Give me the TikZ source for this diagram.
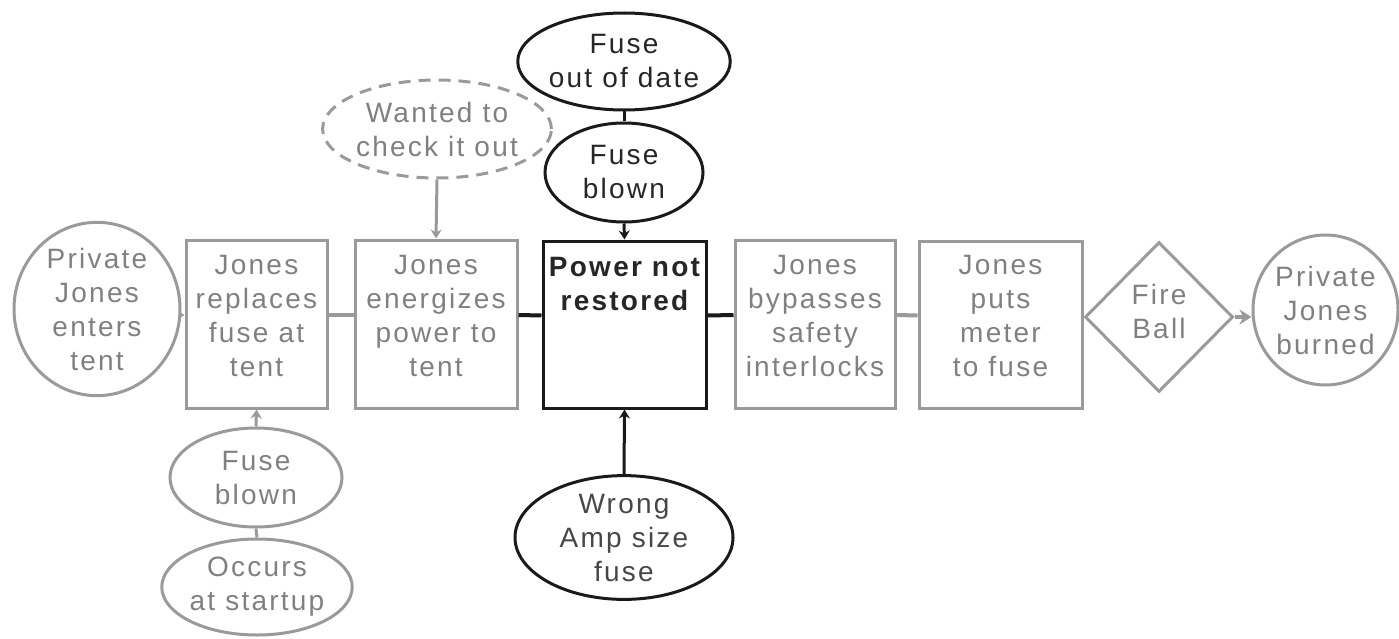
\documentclass[tikz,border=0pt]{standalone}
\usepackage{fontspec}
\setmainfont{Liberation Sans}[LetterSpace=8]
\usetikzlibrary{shapes.geometric,arrows.meta}

\definecolor{gline}{HTML}{9A9A9A}
\definecolor{gtxt}{HTML}{808080}
\definecolor{kline}{HTML}{1A1A1A}
\definecolor{ktxt}{HTML}{262626}

\begin{document}
\begin{tikzpicture}[x=1pt,y=-1pt,
  txt/.style={font=\fontsize{28}{34}\selectfont, align=center, inner sep=0pt},
  gbox/.style={draw=gline, line width=3pt, rectangle, inner sep=0pt},
  kbox/.style={draw=kline, line width=3pt, rectangle, inner sep=0pt},
  gell/.style={draw=gline, line width=3pt, ellipse, inner sep=0pt, text=gtxt, txt},
  kell/.style={draw=kline, line width=3pt, ellipse, inner sep=0pt, text=ktxt, txt},
  gwire/.style={draw=gline, line width=4pt},
  kwire/.style={draw=kline, line width=4pt},
  garrow/.style={draw=gline, line width=3pt, -{Stealth[length=9pt,width=11pt]}},
  karrow/.style={draw=kline, line width=3pt, -{Stealth[length=9pt,width=11pt]}},
  boxlabel/.style={txt, anchor=north, text=gtxt}
]
\useasboundingbox (0,0) rectangle (1399,639);

% main chain of events
\node[gell, minimum width=166pt, minimum height=168pt] (start) at (97,309)
  {Private\\Jones\\enters\\tent};
\node[gbox, minimum width=141pt, minimum height=168pt] (replace) at (256.5,324) {};
\node[gbox, minimum width=162pt, minimum height=168pt] (energize) at (436,324) {};
\node[kbox, minimum width=163pt, minimum height=167pt] (power) at (624.5,324.5) {};
\node[gbox, minimum width=160pt, minimum height=168pt] (bypass) at (815,324) {};
\node[gbox, minimum width=163pt, minimum height=167pt] (meter) at (1000.5,324.5) {};
\node[draw=gline, line width=3pt, diamond, inner sep=0pt, minimum width=148pt,
  minimum height=150pt, txt, text=gtxt] (fire) at (1159,317) {};
\node[txt, text=gtxt] (firet) at (1159,311) {Fire\\Ball};
\node[gell, minimum width=145pt, minimum height=150pt] (burned) at (1325.5,310)
  {Private\\Jones\\burned};

% box captions, set from the top of each box
\node[boxlabel, yshift=-17pt] (replacet) at (replace.north) {Jones\\replaces\\fuse at\\tent};
\node[boxlabel, yshift=-17pt] (energizet) at (energize.north) {Jones\\energizes\\power to\\tent};
\node[boxlabel, text=ktxt, font=\bfseries\fontsize{28}{34}\selectfont, yshift=-18pt]
  (powert) at (power.north) {Power not\\restored};
\node[boxlabel, yshift=-17pt] (bypasst) at (bypass.north) {Jones\\bypasses\\safety\\interlocks};
\node[boxlabel, yshift=-16pt] (metert) at (meter.north) {Jones\\puts\\meter\\to fuse};

% causal factors
\node[kell, minimum width=178pt, minimum height=97pt] (outdate) at (624,61.5)
  {Fuse\\out of date};
\node[kell, minimum width=158pt, minimum height=99pt] (blowntop) at (624,172.5)
  {Fuse\\blown};
\node[gell, dashed, dash pattern=on 12pt off 8pt, minimum width=217pt,
  minimum height=98pt] (check) at (437,129) {Wanted to\\check it out};
\node[gell, minimum width=172pt, minimum height=99pt] (blownlow) at (256,477.5)
  {Fuse\\blown};
\node[gell, minimum width=170pt, minimum height=96pt] (startup) at (257,587)
  {Occurs\\at startup};
\node[kell, text=ktxt!85!white, minimum width=218pt, minimum height=111pt] (amp) at (624,537.5)
  {Wrong\\Amp size\\fuse};

% connectors along the sequence line
\coordinate (startw) at ([yshift=9pt]replace.west);
\draw[draw=gline, line width=3pt, -{Stealth[length=5pt,width=6pt]}] (start.east |- startw) -- (startw);
\draw[gwire] ([yshift=9pt]replace.east) -- ([yshift=9pt]energize.west);
\draw[kwire] ([yshift=9pt]energize.east) -- ([yshift=9pt]power.west);
\draw[kwire] ([yshift=9pt]power.east) -- ([yshift=9pt]bypass.west);
\draw[gwire] ([yshift=9pt]bypass.east) -- ([yshift=9pt]meter.west);
\draw[gwire] ([yshift=9pt]meter.east) -- (fire.west);
\draw[draw=gline, line width=4pt, -{Stealth[length=12pt,width=15pt]}] (fire.east) -- (burned.west |- fire.east);

% connectors from the causal factors
\draw[kline, line width=3pt] (outdate.south) -- (blowntop.north);
\draw[karrow] (blowntop.south) -- (power.north);
\draw[garrow] (check.south) -- (energize.north);
\draw[garrow] (blownlow.north) -- (replace.south);
\draw[gline, line width=3pt] (startup.north) -- (blownlow.south);
\draw[karrow] (amp.north) -- (power.south);
\end{tikzpicture}
\end{document}
